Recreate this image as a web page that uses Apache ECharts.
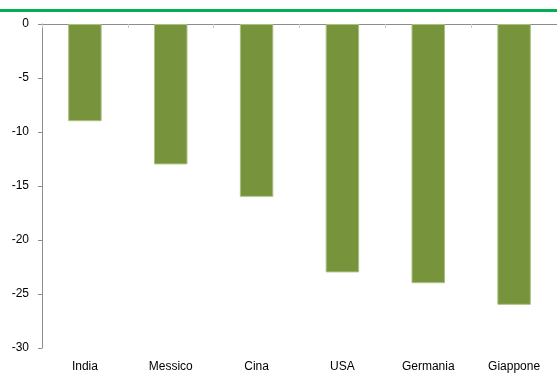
<!DOCTYPE html>
<html>
<head>
<meta charset="utf-8">
<script src="https://cdn.jsdelivr.net/npm/echarts@6/dist/echarts.min.js"></script>
<style>
  html, body { margin: 0; padding: 0; background: #fff; }
  #chart { width: 557px; height: 374px; }
</style>
</head>
<body>
<div id="chart"></div>
<script>
// Paesi e variazioni (punti)
const categories = ['India', 'Messico', 'Cina', 'USA', 'Germania', 'Giappone'];
const values = [-9, -13, -16, -23, -24, -26];
const yTicks = { min: -30, max: 0, step: 5 };

const font = '"Liberation Sans Narrow", "Arial Narrow", "Liberation Sans", Arial, sans-serif';
const axisGray = '#8c8c8c';

const chart = echarts.init(document.getElementById('chart'), null, { renderer: 'canvas' });

chart.setOption({
  animation: false,
  backgroundColor: '#ffffff',
  // plot area runs past the right edge of the frame
  grid: { left: 42, top: 24, width: 522, height: 324, containLabel: false },
  xAxis: [
    {
      // category labels along the bottom
      type: 'category',
      data: categories,
      position: 'bottom',
      axisLine: { show: false, onZero: false },
      axisTick: { show: false },
      axisLabel: { color: '#000', fontFamily: font, fontSize: 12, margin: 13 }
    },
    {
      // axis line and separators at the zero level (top)
      type: 'category',
      data: categories,
      position: 'top',
      axisLine: { show: true, onZero: false, lineStyle: { color: axisGray, width: 1 } },
      axisTick: { show: true, inside: true, length: 4, lineStyle: { color: '#c8c8c8' } },
      axisLabel: { show: false }
    }
  ],
  yAxis: {
    type: 'value',
    min: yTicks.min,
    max: yTicks.max,
    interval: yTicks.step,
    axisLine: { show: true, lineStyle: { color: axisGray, width: 1 } },
    axisTick: { show: true, length: 4, lineStyle: { color: axisGray } },
    splitLine: { show: false },
    axisLabel: { color: '#000', fontFamily: font, fontSize: 12, margin: 13, padding: [5, 0, 0, 0] }
  },
  series: [{
    type: 'bar',
    data: values,
    barWidth: '39%',
    itemStyle: { color: '#77933C', borderColor: '#a9c27f', borderWidth: 1 }
  }],
  graphic: [
    // green rule across the top
    { type: 'rect', left: 0, top: 9, shape: { width: 557, height: 3 }, style: { fill: '#00B050' }, silent: true }
  ]
});
</script>
</body>
</html>
